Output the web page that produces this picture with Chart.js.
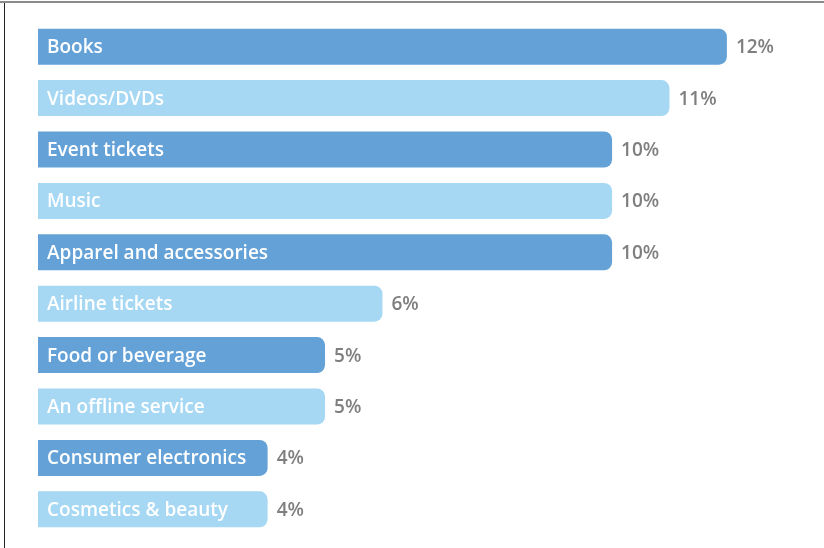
<!DOCTYPE html>
<html>
<head>
<meta charset="utf-8">
<script src="https://cdn.jsdelivr.net/npm/chart.js@4/dist/chart.umd.min.js"></script>
<style>
  body { margin: 0; background: #fff; }
  #wrap { position: relative; width: 824px; height: 548px; }
  #frameTop { position: absolute; left: 0; top: 1px; width: 824px; height: 2px; background: #8a8a8a; }
  #frameLeft { position: absolute; left: 4px; top: 3px; width: 1px; height: 545px; background: #222; }
</style>
</head>
<body>
<div id="wrap">
  <canvas id="myChart" width="824" height="548"></canvas>
  <div id="frameTop"></div>
  <div id="frameLeft"></div>
</div>
<script>
const categories = ['Books', 'Videos/DVDs', 'Event tickets', 'Music', 'Apparel and accessories',
  'Airline tickets', 'Food or beverage', 'An offline service', 'Consumer electronics', 'Cosmetics & beauty'];
const shares = [12, 11, 10, 10, 10, 6, 5, 5, 4, 4];
const valueLabels = ['12%', '11%', '10%', '10%', '10%', '6%', '5%', '5%', '4%', '4%'];

const dark = '#63a1d7';
const light = '#a6d8f4';
const fontFamily = '"Open Sans", "Noto Sans", sans-serif';

// writes the category inside each bar and the share to its right
const barText = {
  id: 'barText',
  afterDatasetsDraw: function (chart) {
    var ctx = chart.ctx;
    var meta = chart.getDatasetMeta(0);
    ctx.save();
    ctx.textBaseline = 'middle';
    ctx.font = '600 19px ' + fontFamily;
    meta.data.forEach(function (bar, i) {
      ctx.fillStyle = '#ffffff';
      ctx.textAlign = 'left';
      ctx.fillText(categories[i], bar.base + 9, bar.y + 1);
      ctx.fillStyle = '#7f7f7f';
      ctx.fillText(valueLabels[i], bar.x + 9, bar.y + 1);
    });
    ctx.restore();
  }
};

const data = {
  labels: categories,
  datasets: [{
    data: shares,
    backgroundColor: categories.map(function (c, i) { return i % 2 == 0 ? dark : light; }),
    borderWidth: 0,
    borderRadius: 8,
    borderSkipped: 'start',
    barPercentage: 0.7,
    categoryPercentage: 1
  }]
};

new Chart(document.getElementById('myChart'), {
  type: 'bar',
  data: data,
  options: {
    indexAxis: 'y',
    responsive: false,
    animation: false,
    layout: { padding: { left: 38, right: 11, top: 21, bottom: 13 } },
    plugins: { legend: { display: false }, tooltip: { enabled: false } },
    scales: {
      x: { min: 0, max: 13.5, display: false },
      y: { display: false }
    }
  },
  plugins: [barText]
});
</script>
</body>
</html>
